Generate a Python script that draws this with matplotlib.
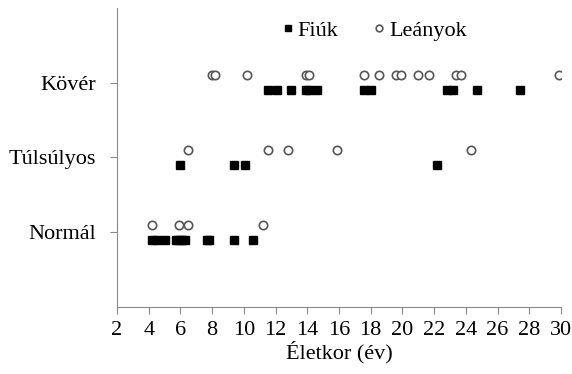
import matplotlib.pyplot as plt

categories = ['Normál', 'Túlsúlyos', 'Kövér']

# ages, per category (0 = Normál, 1 = Túlsúlyos, 2 = Kövér)
fiuk_normal = [4.2, 4.5, 5.0, 5.7, 5.9, 6.1, 6.3, 7.7, 7.8, 9.4, 10.6]
fiuk_tulsulyos = [6.0, 9.4, 10.1, 22.2]
fiuk_kover = [11.5, 12.1, 13.0, 13.9, 14.1, 14.6, 17.6, 18.0, 22.8, 23.2, 24.7, 27.4]

leanyok_normal = [4.2, 5.9, 6.5, 11.2]
leanyok_tulsulyos = [6.5, 11.5, 12.8, 15.9, 24.3]
leanyok_kover = [8.0, 8.2, 10.2, 13.9, 14.1, 17.6, 18.5, 19.6, 19.9, 21.0, 21.7,
                 23.4, 23.7, 29.9]

plt.rcParams['font.family'] = 'Liberation Serif'

fig = plt.figure(figsize=(5.72, 3.74), dpi=100)
ax = fig.add_axes([0.2045, 0.179, 0.7763, 0.8])

fiuk = [fiuk_normal, fiuk_tulsulyos, fiuk_kover]
leanyok = [leanyok_normal, leanyok_tulsulyos, leanyok_kover]

for i, ages in enumerate(fiuk):
    ax.plot(ages, [i + 1 - 0.1] * len(ages), 's', color='black', ms=5.2,
            label='Fiúk' if i == 0 else None)
for i, ages in enumerate(leanyok):
    ax.plot(ages, [i + 1 + 0.1] * len(ages), 'o', mfc='white', mec='#555555',
            mew=1.2, ms=6, label='Leányok' if i == 0 else None)

ax.set_xlim(2, 30)
ax.set_ylim(0, 4)
ax.set_xticks(range(2, 31, 2))
ax.set_yticks([1, 2, 3])
ax.set_yticklabels(categories)
ax.tick_params(labelsize=16, length=5, color='#888888')
ax.tick_params(axis='x', pad=5)
ax.tick_params(axis='y', pad=10)
ax.set_xlabel('Életkor (év)', fontsize=16, labelpad=1)

for s in ['top', 'right']:
    ax.spines[s].set_visible(False)
for s in ['left', 'bottom']:
    ax.spines[s].set_color('#888888')

ax.legend(loc='upper center', bbox_to_anchor=(0.575, 1.025), ncol=2, frameon=False,
          fontsize=16, handletextpad=0.0, columnspacing=1.4, handlelength=0.9,
          markerscale=0.8)

fig.savefig('out.png', dpi=100)
